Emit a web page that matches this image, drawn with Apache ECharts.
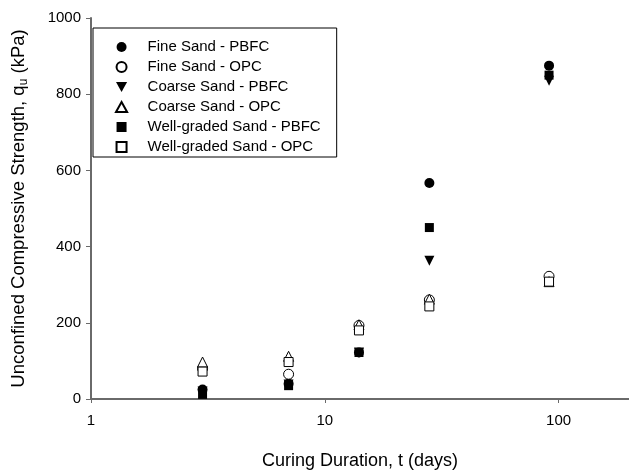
<!DOCTYPE html>
<html>
<head>
<meta charset="utf-8">
<script src="https://cdn.jsdelivr.net/npm/echarts@6/dist/echarts.min.js"></script>
<style>
  html, body { margin: 0; padding: 0; background: #fff; }
  #chart { width: 629px; height: 475px; }
</style>
</head>
<body>
<div id="chart"></div>
<script>
// Curing durations (days)
const days = [3, 7, 14, 28, 91];

// Unconfined compressive strength q_u (kPa) for each mix
const fineSandPBFC = [25, 40, 122, 567, 875];
const fineSandOPC = [80, 65, 193, 260, 322];
const coarseSandPBFC = [20, 38, 122, 363, 835];
const coarseSandOPC = [97, 112, 195, 262, 308];
const wellGradedPBFC = [12, 35, 122, 450, 850];
const wellGradedOPC = [72, 97, 180, 243, 308];

const yTicks = [0, 200, 400, 600, 800, 1000];

const FONT = '"Liberation Sans", Arial, sans-serif';
const AXIS_GRAY = '#6a6a6a';
const TRI_DOWN = 'path://M0,0 L10,0 L5,9 Z';
const TRI_UP = 'path://M5,0 L10,9 L0,9 Z';
const SQUARE = 'path://M0,0 L10,0 L10,10 L0,10 Z';

function pairs(vals) {
  return days.map((d, i) => [d, vals[i]]);
}

function series(name, vals, symbol, filled, size) {
  return {
    name: name,
    type: 'scatter',
    data: pairs(vals),
    symbol: symbol,
    symbolSize: size,
    itemStyle: filled
      ? { color: '#000', borderColor: '#000', borderWidth: 0, opacity: 1 }
      : { color: '#fff', borderColor: '#000', borderWidth: 1, opacity: 1 },
    emphasis: { disabled: true }
  };
}

const chart = echarts.init(document.getElementById('chart'), null, { renderer: 'canvas' });

chart.setOption({
  animation: false,
  backgroundColor: '#fff',
  textStyle: { fontFamily: FONT, color: '#000' },
  grid: { left: 85, top: 18, right: 0, bottom: 64, containLabel: false },
  legend: {
    orient: 'vertical',
    left: 93,
    top: 28,
    padding: [10, 16, 1, 22],
    itemWidth: 42,
    itemHeight: 10,
    itemGap: 2,
    borderColor: '#000',
    borderWidth: 1,
    textStyle: { fontFamily: FONT, fontSize: 15, color: '#000', lineHeight: 18 },
    data: [
      'Fine Sand - PBFC',
      'Fine Sand - OPC',
      'Coarse Sand - PBFC',
      'Coarse Sand - OPC',
      'Well-graded Sand - PBFC',
      'Well-graded Sand - OPC'
    ]
  },
  xAxis: {
    type: 'log',
    logBase: 10,
    min: 1,
    max: 200,
    name: 'Curing Duration, t (days)',
    nameLocation: 'middle',
    nameGap: 53,
    nameTextStyle: { fontFamily: FONT, fontSize: 18, color: '#000' },
    axisLine: { show: true, onZero: false, lineStyle: { color: AXIS_GRAY, width: 2 } },
    axisTick: { show: true, inside: false, length: 4, lineStyle: { color: AXIS_GRAY, width: 1 } },
    minorTick: { show: false },
    axisLabel: {
      fontFamily: FONT, fontSize: 15, color: '#000', margin: 14,
      showMaxLabel: false
    },
    splitLine: { show: false }
  },
  yAxis: {
    type: 'value',
    min: yTicks[0],
    max: yTicks[yTicks.length - 1],
    interval: 200,
    name: '{a|Unconfined Compressive Strength, q}{s|u}{a| (kPa)}',
    nameLocation: 'middle',
    nameGap: 61,
    nameRotate: 90,
    nameTextStyle: {
      fontFamily: FONT,
      color: '#000',
      rich: {
        a: { fontFamily: FONT, fontSize: 18.5, color: '#000', lineHeight: 22 },
        s: { fontFamily: FONT, fontSize: 12, color: '#000', lineHeight: 22, padding: [10, 0, 0, 0] }
      }
    },
    axisLine: { show: true, lineStyle: { color: AXIS_GRAY, width: 2 } },
    axisTick: { show: true, inside: false, length: 5, lineStyle: { color: AXIS_GRAY, width: 1 } },
    axisLabel: {
      fontFamily: FONT, fontSize: 15, color: '#000', margin: 10,
      formatter: (v) => String(v)
    },
    splitLine: { show: false }
  },
  series: [
    series('Fine Sand - PBFC', fineSandPBFC, 'circle', true, 10),
    series('Fine Sand - OPC', fineSandOPC, 'circle', false, 10),
    series('Coarse Sand - PBFC', coarseSandPBFC, TRI_DOWN, true, 10),
    series('Coarse Sand - OPC', coarseSandOPC, TRI_UP, false, 10),
    series('Well-graded Sand - PBFC', wellGradedPBFC, SQUARE, true, 9),
    series('Well-graded Sand - OPC', wellGradedOPC, SQUARE, false, 9)
  ]
});
</script>
</body>
</html>
